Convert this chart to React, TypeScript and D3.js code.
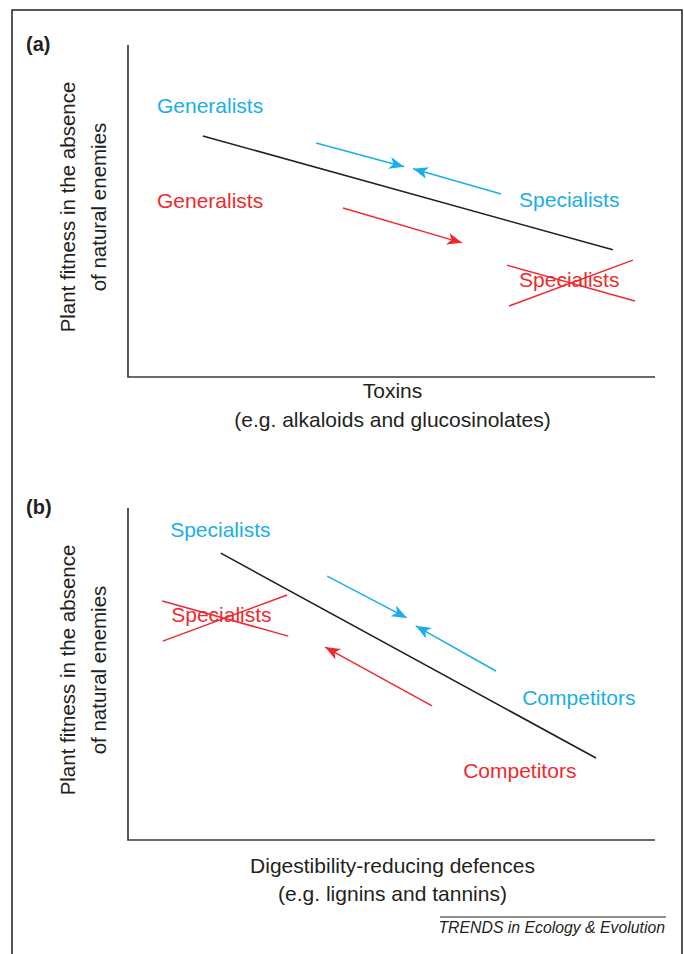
import React from "react";
import * as d3 from "d3";

// ---- Data (domain units 0..100 on both axes of each panel) ----
type Seg = { x1: number; y1: number; x2: number; y2: number; color: string };
type Label = { text: string; x: number; y: number; color: string; crossed?: boolean };

const BLUE = "#1aaee8";
const RED = "#ee2a2f";
const BLACK = "#231f20";

const panelNames = ["(a)", "(b)"];
const xTitles = [
  ["Toxins", "(e.g. alkaloids and glucosinolates)"],
  ["Digestibility-reducing defences", "(e.g. lignins and tannins)"],
];
const yTitle = ["Plant fitness in the absence", "of natural enemies"];

const tradeoffLines: Seg[][] = [
  [{ x1: 14.2, y1: 72.6, x2: 92.0, y2: 38.3, color: BLACK }],
  [{ x1: 17.6, y1: 86.4, x2: 88.8, y2: 24.7, color: BLACK }],
];

const arrows: Seg[][] = [
  [
    { x1: 35.7, y1: 70.5, x2: 52.4, y2: 63.3, color: BLUE },
    { x1: 70.8, y1: 55.1, x2: 54.1, y2: 62.7, color: BLUE },
    { x1: 40.8, y1: 50.9, x2: 63.4, y2: 40.4, color: RED },
  ],
  [
    { x1: 37.8, y1: 79.5, x2: 52.9, y2: 66.9, color: BLUE },
    { x1: 69.8, y1: 50.9, x2: 54.6, y2: 64.5, color: BLUE },
    { x1: 57.7, y1: 40.4, x2: 37.4, y2: 58.1, color: RED },
  ],
];

const labels: Label[][] = [
  [
    { text: "Generalists", x: 5.5, y: 79.5, color: BLUE },
    { text: "Generalists", x: 5.5, y: 50.9, color: RED },
    { text: "Specialists", x: 74.2, y: 51.2, color: BLUE },
    { text: "Specialists", x: 74.2, y: 27.1, color: RED, crossed: true },
  ],
  [
    { text: "Specialists", x: 8.0, y: 91.3, color: BLUE },
    { text: "Specialists", x: 8.2, y: 65.7, color: RED, crossed: true },
    { text: "Competitors", x: 74.8, y: 40.7, color: BLUE },
    { text: "Competitors", x: 63.6, y: 18.7, color: RED },
  ],
];

const crossLines: Seg[][] = [
  [
    { x1: 71.9, y1: 33.7, x2: 96.2, y2: 22.9, color: RED },
    { x1: 72.3, y1: 21.4, x2: 95.8, y2: 35.2, color: RED },
  ],
  [
    { x1: 6.5, y1: 72.0, x2: 30.4, y2: 61.4, color: RED },
    { x1: 6.6, y1: 59.9, x2: 30.2, y2: 73.8, color: RED },
  ],
];

const footer = "TRENDS in Ecology & Evolution";

// ---- Layout ----
const W = 684;
const H = 954;
const FONT = "'Liberation Sans', Arial, Helvetica, sans-serif";
const axisLeft = 128;
const axisRight = 655;
const panelTops = [45, 508];
const panelHeight = 332;

function Panel({ idx }: { idx: number }) {
  const top = panelTops[idx];
  const bottom = top + panelHeight;
  const x = d3.scaleLinear().domain([0, 100]).range([axisLeft, axisRight]);
  const y = d3.scaleLinear().domain([0, 100]).range([bottom, top]);
  const line = d3.line<[number, number]>().x((d) => x(d[0])).y((d) => y(d[1]));
  const midX = (axisLeft + axisRight) / 2 + 1;
  const midY = top + 162;
  const markerFor = (c: string) => (c === BLUE ? "url(#headBlue)" : "url(#headRed)");
  return (
    <g>
      <text x={26} y={top + 6} fontFamily={FONT} fontWeight="bold" fontSize={20} fill={BLACK}>
        {panelNames[idx]}
      </text>
      {/* axes */}
      <path
        d={`M${axisLeft},${top}V${bottom}H${axisRight}`}
        fill="none"
        stroke="#3a3a3a"
        strokeWidth={1.7}
      />
      {/* y title */}
      <g transform={`translate(75,${midY}) rotate(-90)`}>
        <text x={0} y={0} textAnchor="middle" fontFamily={FONT} fontSize={20.5} fill={BLACK}>
          {yTitle[0]}
        </text>
        <text x={0} y={31} textAnchor="middle" fontFamily={FONT} fontSize={20.5} fill={BLACK}>
          {yTitle[1]}
        </text>
      </g>
      {/* x title */}
      <text x={midX} y={bottom + (idx === 0 ? 21 : 33)} textAnchor="middle" fontFamily={FONT} fontSize={21} fill={BLACK}>
        {xTitles[idx][0]}
      </text>
      <text x={midX} y={bottom + (idx === 0 ? 50 : 61)} textAnchor="middle" fontFamily={FONT} fontSize={21} fill={BLACK}>
        {xTitles[idx][1]}
      </text>
      {tradeoffLines[idx].map((s, i) => (
        <path
          key={"t" + i}
          d={line([[s.x1, s.y1], [s.x2, s.y2]]) || ""}
          stroke={s.color}
          strokeWidth={1.6}
          fill="none"
        />
      ))}
      {arrows[idx].map((s, i) => (
        <path
          key={"a" + i}
          d={line([[s.x1, s.y1], [s.x2, s.y2]]) || ""}
          stroke={s.color}
          strokeWidth={1.5}
          fill="none"
          markerEnd={markerFor(s.color)}
        />
      ))}
      {labels[idx].map((l, i) => (
        <text key={"l" + i} x={x(l.x)} y={y(l.y)} fontFamily={FONT} fontSize={21} fill={l.color}>
          {l.text}
        </text>
      ))}
      {crossLines[idx].map((s, i) => (
        <path
          key={"c" + i}
          d={line([[s.x1, s.y1], [s.x2, s.y2]]) || ""}
          stroke={s.color}
          strokeWidth={1.5}
          fill="none"
        />
      ))}
    </g>
  );
}

export default function App() {
  const head = "M0,0 L-15,-6 L-11,0 L-15,6 Z";
  return (
    <svg
      width={W}
      height={H}
      viewBox={`0 0 ${W} ${H}`}
      style={{ position: "absolute", left: 0, top: 0, background: "#fff" }}
    >
      <defs>
        <marker id="headBlue" markerUnits="userSpaceOnUse" viewBox="-16 -7 17 14" refX={0} refY={0} markerWidth={17} markerHeight={14} orient="auto">
          <path d={head} fill={BLUE} />
        </marker>
        <marker id="headRed" markerUnits="userSpaceOnUse" viewBox="-16 -7 17 14" refX={0} refY={0} markerWidth={17} markerHeight={14} orient="auto">
          <path d={head} fill={RED} />
        </marker>
      </defs>
      <rect x={0} y={0} width={W} height={H} fill="#fff" />
      <path d={`M12,${H + 5}V10H682V${H + 5}`} fill="none" stroke="#222" strokeWidth={1.5} />
      <Panel idx={0} />
      <Panel idx={1} />
      <line x1={440} x2={666} y1={917} y2={917} stroke={BLACK} strokeWidth={1} />
      <text x={665} y={933} textAnchor="end" fontFamily={FONT} fontStyle="italic" fontSize={15.8} fill={BLACK}>
        {footer}
      </text>
    </svg>
  );
}
